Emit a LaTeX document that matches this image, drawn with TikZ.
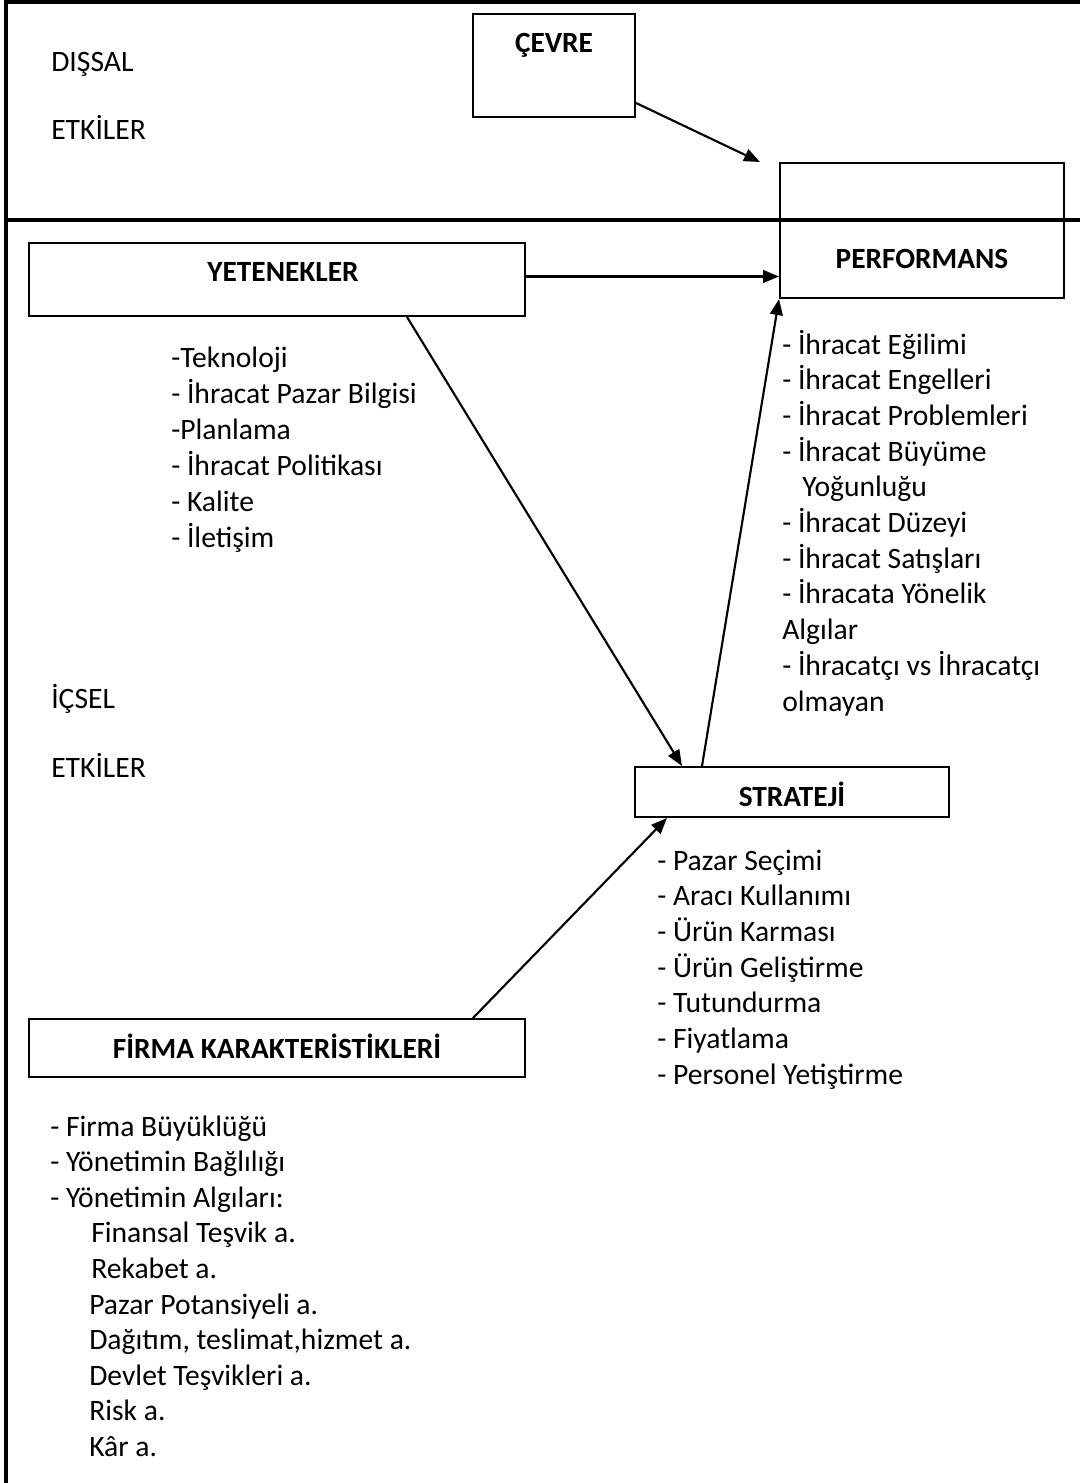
\documentclass[tikz,border=0pt]{standalone}
\usepackage{fontspec}
\setmainfont{Carlito}
\usetikzlibrary{arrows.meta,calc}
\begin{document}
\begin{tikzpicture}[x=0.75pt,y=-0.75pt,
  every node/.style={font=\fontsize{22.2}{26}\selectfont, inner sep=0pt},
  box/.style n args={2}{draw, line width=1.5pt, minimum width=#1*0.75pt, minimum height=#2*0.75pt},
  title/.style={anchor=base, font=\fontsize{22}{26}\selectfont\bfseries},
  item/.style={anchor=base west},
  frame/.style={line width=2.4pt},
  link/.style={line width=1.6pt, -{Triangle[length=12pt,width=9.5pt]}}]

% page area
\useasboundingbox (0,0) rectangle (1080,1483);

% outer frame and the external/internal divider
\draw[frame] (6,1483) -- (6,2) -- (1080,2);
\draw[frame] (6,220) -- (1080,220);

% boxes
\node[box={162}{103}] (cevre) at (554,65.5) {};
\node[box={284}{135}] (perf)  at (922,230.5) {};
\node[box={496}{73}]  (yet)   at (277,279.5) {};
\node[box={314}{50}]  (strat) at (792,792) {};
\node[box={496}{58}]  (firma) at (277,1048) {};

% box titles
\node[title] (cevreT) at (554,53)   {ÇEVRE};
\node[title] (perfT)  at (922,269)  {PERFORMANS};
\node[title] (yetT)   at (283,282)  {YETENEKLER};
\node[title] (stratT) at (792,806)  {STRATEJİ};
\node[title] (firmaT) at (277,1058) {FİRMA KARAKTERİSTİKLERİ};

% side labels
\node[item] (dis1) at (51,72)  {DIŞSAL};
\node[item] (dis2) at (51,140) {ETKİLER};
\node[item] (ic1)  at (51,708) {İÇSEL};
\node[item] (ic2)  at (51,777) {ETKİLER};

% capabilities
\foreach \t [count=\i from 0] in {-Teknoloji, - İhracat Pazar Bilgisi, -Planlama,
    - İhracat Politikası, - Kalite, - İletişim}
  \node[item] (yetL\i) at (171,368+35.8*\i) {\t};

% performance measures
\foreach \t/\x [count=\i from 0] in {- İhracat Eğilimi/782, - İhracat Engelleri/782,
    - İhracat Problemleri/782, - İhracat Büyüme/782, Yoğunluğu/802,
    - İhracat Düzeyi/782, - İhracat Satışları/782, - İhracata Yönelik/782,
    Algılar/782, - İhracatçı vs İhracatçı/782, olmayan/782}
  \node[item] (perfL\i) at (\x,354+35.7*\i) {\t};

% strategy elements
\foreach \t [count=\i from 0] in {- Pazar Seçimi, - Aracı Kullanımı, - Ürün Karması,
    - Ürün Geliştirme, - Tutundurma, - Fiyatlama, - Personel Yetiştirme}
  \node[item] (stratL\i) at (657,870+35.7*\i) {\t};

% firm characteristics
\foreach \t/\x [count=\i from 0] in {- Firma Büyüklüğü/50, - Yönetimin Bağlılığı/50,
    - Yönetimin Algıları:/50, Finansal Teşvik a./91, Rekabet a./91,
    Pazar Potansiyeli a./89, {Dağıtım, teslimat,hizmet a.}/89,
    Devlet Teşvikleri a./89, Risk a./89, Kâr a./89}
  \node[item] (firmaL\i) at (\x,1136+35.6*\i) {\t};

% connectors
\coordinate (perfIn) at ($(perf.north west)+(-19,0)$);
\draw[link] ($(cevre.south east)+(0,-15)$) -- (perfIn);
\draw[link] ($(yet.east)+(0,-3)$) -- ($(yet.east -| perf.west)+(0,-3)$);
\draw[link] ($(yet.south)+(130,0)$) -- ($(strat.north)+(-110,0)$);
\draw[link] ($(strat.north)+(-90,0)$) -- (perf.south west);
\draw[link] ($(firma.north)+(196,0)$) -- ($(strat.south)+(-125,0)$);
\end{tikzpicture}
\end{document}
